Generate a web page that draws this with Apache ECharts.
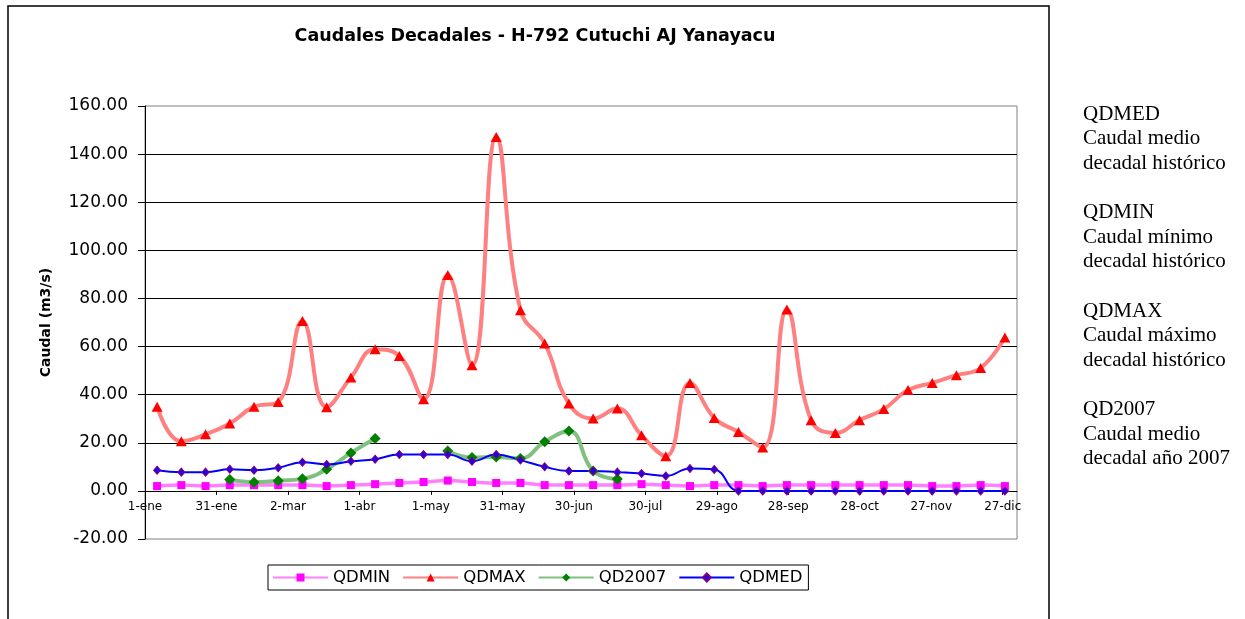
<!DOCTYPE html>
<html>
<head>
<meta charset="utf-8">
<script src="https://cdn.jsdelivr.net/npm/echarts@6/dist/echarts.min.js"></script>
<style>html,body{margin:0;padding:0;background:#fff}#c{width:1245px;height:619px}</style>
</head>
<body>
<div id="c"></div>
<script>
// Decades (plotted at category centres)
var decades = ['1-ene','11-ene','21-ene','1-feb','11-feb','21-feb','1-mar','11-mar','21-mar',
  '1-abr','11-abr','21-abr','1-may','11-may','21-may','1-jun','11-jun','21-jun',
  '1-jul','11-jul','21-jul','1-ago','11-ago','21-ago','1-sep','11-sep','21-sep',
  '1-oct','11-oct','21-oct','1-nov','11-nov','21-nov','1-dic','11-dic','21-dic'];
// Tick positions (day of year) and labels
var tickDays = [0,30,60,90,120,150,180,210,240,270,300,330,360];
var tickLabels = ['1-ene','31-ene','2-mar','1-abr','1-may','31-may','30-jun','30-jul','29-ago','28-sep','28-oct','27-nov','27-dic'];

var qdmin = [2.0,2.4,2.0,2.4,2.4,2.4,2.4,2.0,2.4,2.8,3.3,3.7,4.3,3.7,3.3,3.3,2.4,2.4,2.4,2.4,2.8,2.4,2.0,2.4,2.4,2.0,2.4,2.4,2.4,2.4,2.4,2.4,2.0,2.0,2.4,2.0];
var qdmax = [35.0,20.6,23.5,28.0,35.0,37.0,70.6,34.8,47.1,58.9,56.1,38.1,89.7,52.2,147.1,75.1,61.3,36.3,30.1,34.2,23.1,14.4,44.9,30.3,24.5,18.0,75.4,29.4,24.1,29.4,34.0,41.9,44.9,48.1,51.1,63.8];
var qd2007 = [null,null,null,4.7,3.6,4.2,5.0,9.0,15.8,21.8,null,null,16.6,13.9,14.1,13.5,20.4,24.9,8.3,4.9,null,null,null,null,null,null,null,null,null,null,null,null,null,null,null,null];
var qdmed = [8.6,7.8,7.8,9.0,8.6,9.6,11.9,11.0,12.3,13.2,15.1,15.1,15.1,12.3,15.1,12.8,10.0,8.3,8.3,7.8,7.2,6.2,9.3,8.9,0,0,0,0,0,0,0,0,0,0,0,0];

var sideText = 'QDMED\nCaudal medio\ndecadal histórico\n\nQDMIN\nCaudal mínimo\ndecadal histórico\n\nQDMAX\nCaudal máximo\ndecadal histórico\n\nQD2007\nCaudal medio\ndecadal año 2007';

var SANS = '"DejaVu Sans", Arial, sans-serif';
var chart = echarts.init(document.getElementById('c'), null, {renderer:'canvas'});
var SM = 0.45;
// distance from the grid bottom (value -20) up to the value 0 line: one interval of 20 units
var gridH = 619 - 106 - 80;
var zeroOffset = -gridH * 20 / 180;
chart.setOption({
  animation:false,
  backgroundColor:'#ffffff',
  textStyle:{fontFamily:SANS},
  title:{
    text:'Caudales Decadales - H-792 Cutuchi AJ Yanayacu',
    left:530, top:22, textAlign:'center',
    textStyle:{fontSize:17.5, fontWeight:'bold', color:'#000', fontFamily:SANS}
  },
  grid:{left:145, top:106, right:228, bottom:80, show:true, borderColor:'#808080', borderWidth:1, backgroundColor:'transparent'},
  legend:{
    left:268, top:565,
    data:['QDMIN','QDMAX','QD2007','QDMED'],
    borderColor:'#000', borderWidth:1, padding:[4,6,4,4], itemGap:12,
    itemWidth:55, itemHeight:10,
    textStyle:{fontSize:16.5, color:'#000', fontFamily:SANS}
  },
  xAxis:[
    {type:'value', min:0, max:366, position:'bottom', offset:zeroOffset,
     axisLine:{show:true, onZero:false, lineStyle:{color:'#000', width:1}},
     axisTick:{show:true, inside:false, length:4, customValues:tickDays, lineStyle:{color:'#000'}},
     axisLabel:{customValues:tickDays, fontSize:12, color:'#000', margin:10,
       formatter:function(v){var i=tickDays.indexOf(v); return i>=0?tickLabels[i]:'';}},
     splitLine:{show:false}},
    {type:'category', data:decades, boundaryGap:true, show:false, position:'bottom',
     axisLine:{onZero:false}}
  ],
  yAxis:{
    type:'value', min:-20, max:160, interval:20,
    name:'Caudal (m3/s)', nameLocation:'middle', nameRotate:90, nameGap:92,
    nameTextStyle:{fontSize:14, fontWeight:'bold', color:'#000', fontFamily:SANS},
    axisLine:{show:true, onZero:false, lineStyle:{color:'#000', width:1}},
    axisTick:{show:true, length:7, lineStyle:{color:'#000'}},
    axisLabel:{fontSize:17, color:'#000', margin:17, formatter:function(v){return v.toFixed(2);}},
    splitLine:{show:true, showMinLine:false, showMaxLine:false, lineStyle:{color:'#000', width:1}}
  },
  series:[
    {name:'QDMIN', type:'line', xAxisIndex:1, data:qdmin, smooth:SM,
     symbol:'rect', symbolSize:8, lineStyle:{color:'#FF80FF', width:3.5},
     itemStyle:{color:'#FF00FF', borderWidth:0}},
    {name:'QDMAX', type:'line', xAxisIndex:1, data:qdmax, smooth:SM,
     symbol:'triangle', symbolSize:[11,10], lineStyle:{color:'#FF8080', width:4},
     itemStyle:{color:'#FF0000', borderWidth:0}},
    {name:'QD2007', type:'line', xAxisIndex:1, data:qd2007, smooth:SM, connectNulls:false,
     symbol:'diamond', symbolSize:[11,11], lineStyle:{color:'#80C080', width:4},
     itemStyle:{color:'#008000', borderWidth:0}},
    {name:'QDMED', type:'line', xAxisIndex:1, data:qdmed, smooth:SM,
     symbol:'diamond', symbolSize:[7,8], lineStyle:{color:'#0000FF', width:2},
     itemStyle:{color:'#2000E0', borderColor:'#800080', borderWidth:1}}
  ],
  graphic:[
    {type:'rect', silent:true, z:-10, shape:{x:8, y:6, width:1041, height:700},
     style:{fill:null, stroke:'#000', lineWidth:1.5}},
    {type:'text', left:1083, top:102, silent:true,
     style:{text:sideText, font:'21px "Liberation Serif", "Times New Roman", serif', fill:'#000', lineHeight:24.6}}
  ]
});
</script>
</body>
</html>
